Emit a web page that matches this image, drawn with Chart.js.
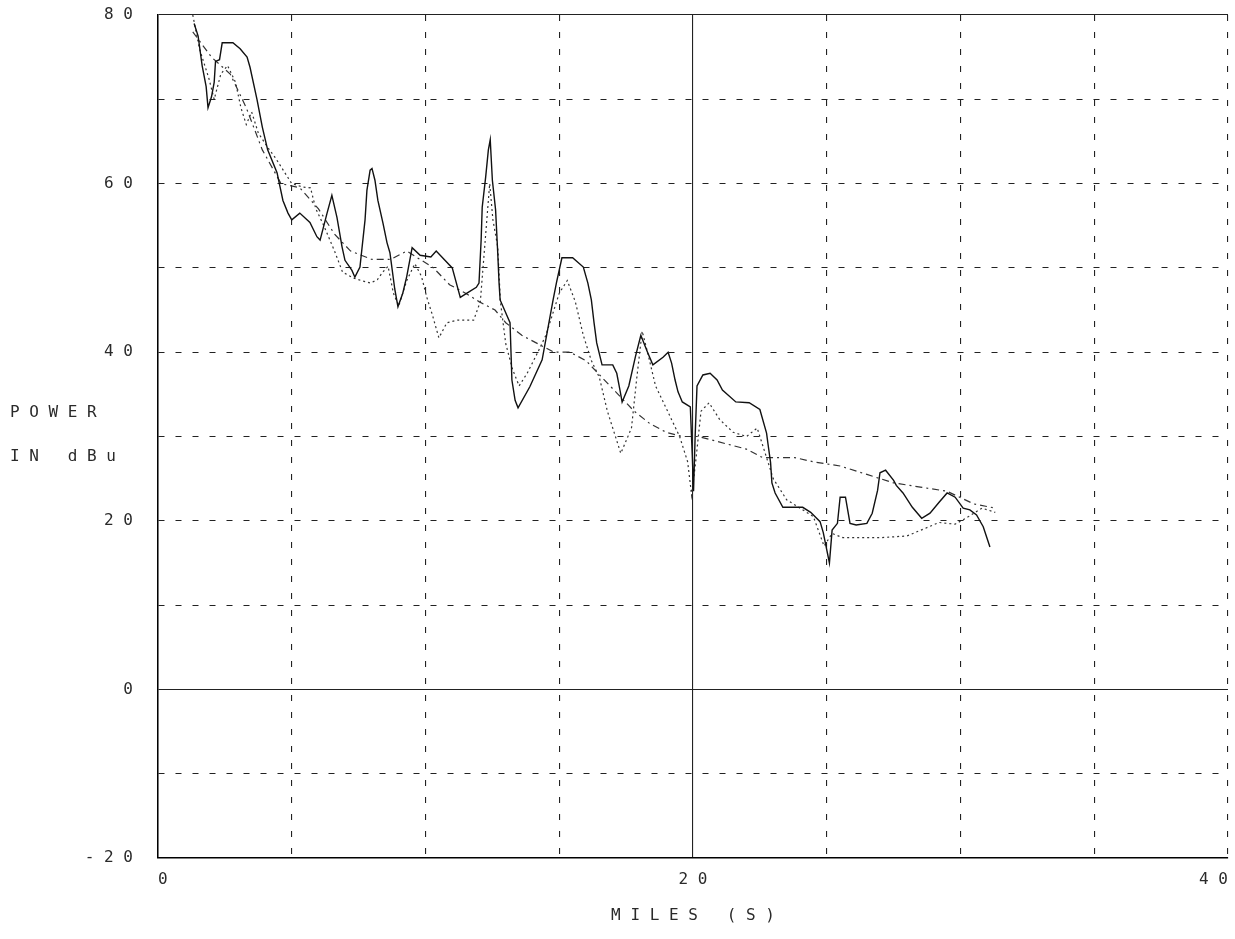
<!DOCTYPE html>
<html>
<head>
<meta charset="utf-8">
<script src="https://cdn.jsdelivr.net/npm/chart.js@4.4.1/dist/chart.umd.min.js"></script>
<style>
  html, body { margin: 0; padding: 0; background: #ffffff; }
  canvas { display: block; }
</style>
</head>
<body>
<canvas id="c" width="1235" height="939"></canvas>
<script>
// ---------- data ----------
const xTickLabels = { 0: '0', 20: '2 0', 40: '4 0' };
const yTickLabels = { '-20': '- 2 0', 0: '0', 20: '2 0', 40: '4 0', 60: '6 0', 80: '8 0' };
const xTitle = 'M I L E S   ( S )';
const yTitleLines = ['P O W E R', 'I N   d B u'];

// solid trace
const milesA = [1.35,1.5,1.65,1.8,1.87,2.0,2.1,2.15,2.3,2.4,2.8,3.07,3.33,3.44,3.7,3.9,4.1,4.45,4.67,4.86,5.0,5.3,5.68,5.94,6.06,6.32,6.5,6.69,6.88,6.99,7.25,7.36,7.55,7.74,7.81,7.93,8.0,8.11,8.22,8.41,8.56,8.67,8.85,8.97,9.15,9.3,9.5,9.8,10.2,10.4,10.7,11.0,11.3,11.55,11.9,12.0,12.08,12.12,12.25,12.35,12.42,12.5,12.62,12.7,12.75,12.79,13.16,13.23,13.35,13.46,13.9,14.36,14.77,14.9,15.1,15.5,15.9,16.07,16.2,16.3,16.4,16.6,17.0,17.15,17.27,17.35,17.6,17.85,18.05,18.3,18.5,18.88,19.07,19.2,19.33,19.44,19.6,19.9,19.97,20.02,20.08,20.15,20.37,20.64,20.9,21.1,21.6,22.1,22.5,22.75,22.8,22.9,22.95,23.07,23.36,23.7,24.1,24.4,24.75,24.87,25.1,25.2,25.4,25.5,25.7,25.87,26.1,26.5,26.7,26.9,26.99,27.2,27.5,27.6,27.85,28.2,28.55,28.86,29.2,29.5,29.8,30.1,30.35,30.6,30.85,31.1];
const powerA = [79,77.5,74,71.5,69,70.3,72,74.5,74.7,76.7,76.7,76,75,73.8,70,66.7,64,61.3,58,56.5,55.7,56.5,55.4,53.7,53.3,56.5,58.6,56,52.5,50.9,49.7,48.9,50.1,55.7,59.2,61.6,61.8,60.4,58,55.3,53,51.8,47.5,45.4,47,49,52.4,51.5,51.3,52,51,50,46.5,47,47.7,48.2,53.3,57.2,60.8,64,65.2,60.4,56.9,51.8,48.2,46.2,43.5,36.7,34.3,33.4,35.9,39.1,46.2,48.3,51.2,51.2,50.1,48.2,46.2,43.5,41.1,38.5,38.5,37.5,35.5,34.1,36,39.5,42,40,38.5,39.4,40,38.7,36.7,35.3,34.1,33.5,28,23.5,30,36,37.3,37.5,36.7,35.5,34.1,34,33.2,30.4,29.2,26.9,24.5,23.3,21.6,21.6,21.6,21,19.9,18.6,15,18.9,19.7,22.8,22.8,19.7,19.5,19.7,20.9,23.6,25.7,26,24.8,24.2,23.3,21.6,20.3,20.9,22.2,23.3,22.8,21.5,21.3,20.7,19.3,16.9];

// dotted trace
const milesB = [1.3,1.55,1.9,2.1,2.35,2.6,2.9,3.1,3.3,3.5,3.75,4.1,4.4,4.7,5.0,5.4,5.7,5.9,6.2,6.6,6.9,7.3,7.6,7.95,8.2,8.4,8.6,8.8,9.0,9.3,9.6,9.85,10.05,10.25,10.5,10.8,11.2,11.8,12.05,12.2,12.4,12.52,12.7,12.8,13.0,13.25,13.5,13.8,14.2,14.5,14.8,15.0,15.3,15.6,15.9,16.2,16.5,16.8,17.1,17.3,17.5,17.7,17.9,18.1,18.3,18.6,18.9,19.2,19.5,19.8,19.95,20.1,20.3,20.6,21.0,21.5,22.0,22.4,22.7,23.0,23.5,24.0,24.5,24.9,25.2,25.6,26.0,27.0,28.0,28.6,29.2,29.8,30.3,30.8,31.3];
const powerB = [80,76,72.5,70,73,74,72,69,67,68.5,66,64.3,63,61.5,60,59.6,59.5,57,55,52,49.5,48.8,48.5,48.2,48.6,49.5,50.2,47,45.5,48.5,50.5,49,46.5,44.5,41.7,43.5,43.8,43.8,46,52,60,55.7,52.5,46,41,38,36,37.5,40,42,45,47,48.5,46,42,39,37,33,30,28,29.5,31,37,42.5,40,36,34,32,30,27,23,27,33,34,32,30.5,30,31,28,25,22.5,21.5,20.5,17,18.5,18,18,18,18.2,19,19.8,19.6,20.5,21.5,21];

// dash-dot (smoothed) trace
const milesC = [1.3,2.0,2.7,3.3,3.9,4.6,5.3,6.0,6.6,7.2,8.0,8.7,9.3,9.8,10.3,10.9,11.5,12.0,12.6,13.0,13.6,14.2,14.8,15.4,16.0,16.6,17.2,17.8,18.4,19.0,19.6,20.2,20.8,21.4,22.0,22.6,23.2,23.8,24.5,25.5,26.5,27.5,28.5,29.5,30.5,31.3];
const powerC = [78,75,73,69,64,60,59.5,57,54,52,51,51,52,51,50,48,47,46,45,43.5,42,41,40,40,39,37,35,33,31.5,30.5,30,30,29.5,29,28.5,27.5,27.5,27.5,27,26.5,25.5,24.5,24,23.5,22,21.5];

// ---------- chart ----------
const FONT = { family: '"DejaVu Sans Mono", monospace', size: 16 };
const TEXT = '#2a2a2a';
const toXY = (xs, ys) => xs.map((x, i) => ({ x: x, y: ys[i] }));

const yTitlePlugin = {
  id: 'yTitle',
  afterDraw(chart) {
    const c = chart.ctx;
    c.save();
    c.font = FONT.size + 'px ' + FONT.family;
    c.fillStyle = TEXT;
    c.textAlign = 'left';
    c.textBaseline = 'middle';
    c.fillText(yTitleLines[0], 10, 413);
    c.fillText(yTitleLines[1], 10, 457);
    c.restore();
  }
};

new Chart(document.getElementById('c'), {
  type: 'line',
  data: {
    datasets: [
      { data: toXY(milesA, powerA), borderColor: '#111', borderWidth: 1.4, pointRadius: 0, tension: 0, fill: false },
      { data: toXY(milesB, powerB), borderColor: '#333', borderWidth: 1.2, borderDash: [2, 3], pointRadius: 0, tension: 0, fill: false },
      { data: toXY(milesC, powerC), borderColor: '#333', borderWidth: 1.2, borderDash: [7, 4, 2, 4], pointRadius: 0, tension: 0, fill: false }
    ]
  },
  options: {
    responsive: false,
    animation: false,
    layout: { padding: { top: 15, right: 7, left: 0, bottom: 0 } },
    plugins: { legend: { display: false }, tooltip: { enabled: false } },
    scales: {
      x: {
        type: 'linear', min: 0, max: 40,
        afterFit(s) { s.height = 81; s.paddingLeft = 0; s.paddingRight = 0; },
        ticks: {
          stepSize: 5, autoSkip: false, maxRotation: 0, align: 'inner', padding: 12,
          font: FONT, color: TEXT,
          callback: v => (xTickLabels[v] !== undefined ? xTickLabels[v] : '')
        },
        grid: { drawTicks: false, color: '#222', lineWidth: 1.1 },
        border: {
          display: true, color: '#000', width: 1.5,
          dash: ctx => (ctx.tick && (ctx.tick.value === 20 || ctx.tick.value === 0)) ? [] : [6, 11]
        },
        title: { display: true, text: xTitle, font: FONT, color: TEXT, padding: { top: 4, bottom: 14 } }
      },
      y: {
        type: 'linear', min: -20, max: 80,
        afterFit(s) { s.width = 158; s.paddingTop = 0; s.paddingBottom = 0; },
        ticks: {
          stepSize: 10, autoSkip: false, padding: 25,
          font: FONT, color: TEXT,
          callback: v => (yTickLabels[v] !== undefined ? yTickLabels[v] : '')
        },
        grid: { drawTicks: false, color: '#222', lineWidth: 1.1 },
        border: {
          display: true, color: '#000', width: 1.5,
          dash: ctx => (ctx.tick && (ctx.tick.value === 0 || ctx.tick.value === 80 || ctx.tick.value === -20)) ? [] : [6, 11]
        }
      }
    }
  },
  plugins: [yTitlePlugin]
});
</script>
</body>
</html>
